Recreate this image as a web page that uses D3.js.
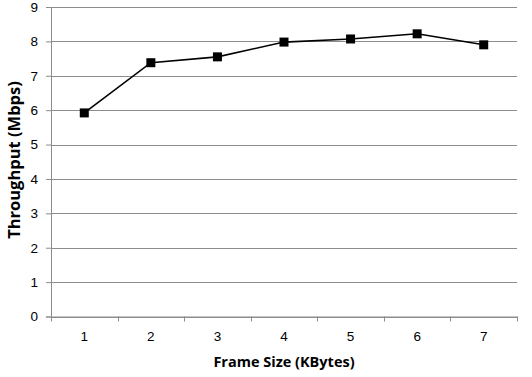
<!DOCTYPE html>
<html>
<head>
<meta charset="utf-8">
<script src="https://cdn.jsdelivr.net/npm/d3@7"></script>
<style>
  body { margin: 0; background: #fff; }
</style>
</head>
<body>
<div id="chart"></div>
<script>
const frameSizes = ["1", "2", "3", "4", "5", "6", "7"];
const throughput = [5.92, 7.38, 7.55, 7.98, 8.07, 8.22, 7.9];
const yTicks = [0, 1, 2, 3, 4, 5, 6, 7, 8, 9];

const width = 532, height = 377;
const margin = { top: 7, right: 15, bottom: 60.5, left: 51 };
const graphWidth = width - margin.left - margin.right;
const graphHeight = height - margin.top - margin.bottom;

const svg = d3.select("#chart").append("svg")
    .attr("width", width)
    .attr("height", height);

const graph = svg.append("g")
    .attr("transform", `translate(${margin.left},${margin.top})`);

const x = d3.scaleBand()
    .domain(frameSizes)
    .range([0, graphWidth]);

const y = d3.scaleLinear()
    .domain([0, 9])
    .range([graphHeight, 0]);

// gridlines
graph.selectAll("line.grid")
    .data(yTicks)
    .enter()
    .append("line")
    .attr("class", "grid")
    .attr("x1", 0)
    .attr("x2", graphWidth)
    .attr("y1", d => Math.round(y(d)) + 0.5)
    .attr("y2", d => Math.round(y(d)) + 0.5)
    .attr("stroke", "#8c8c8c")
    .attr("stroke-width", 1);

// y axis
const yAxisGroup = graph.append("g")
    .call(d3.axisLeft(y).tickValues(yTicks).tickSize(5).tickPadding(8));
yAxisGroup.select(".domain").attr("stroke", "#8c8c8c");
yAxisGroup.selectAll(".tick line").attr("stroke", "#8c8c8c");
yAxisGroup.selectAll("text")
    .style("font-family", "'Liberation Sans', Arial, sans-serif")
    .style("font-size", "13.5px")
    .attr("fill", "#000");

// x axis with ticks on band boundaries
const xAxisGroup = graph.append("g")
    .attr("transform", `translate(0,${graphHeight})`)
    .call(d3.axisBottom(x).tickSize(0).tickPadding(15));
xAxisGroup.select(".domain").attr("stroke", "#8c8c8c");
xAxisGroup.selectAll("text")
    .style("font-family", "'Liberation Sans', Arial, sans-serif")
    .style("font-size", "13.5px")
    .attr("fill", "#000");

const bounds = frameSizes.map(d => x(d)).concat([graphWidth]);
xAxisGroup.selectAll("line.btick")
    .data(bounds)
    .enter()
    .append("line")
    .attr("class", "btick")
    .attr("x1", d => Math.round(d) + 0.5)
    .attr("x2", d => Math.round(d) + 0.5)
    .attr("y1", 0)
    .attr("y2", 5)
    .attr("stroke", "#8c8c8c");

// line
const points = frameSizes.map((d, i) => ({ cat: d, val: throughput[i] }));
const line = d3.line()
    .x(d => x(d.cat) + x.bandwidth() / 2)
    .y(d => y(d.val));

graph.append("path")
    .datum(points)
    .attr("d", line)
    .attr("fill", "none")
    .attr("stroke", "#000")
    .attr("stroke-width", 1.6);

// markers
graph.selectAll("rect.marker")
    .data(points)
    .enter()
    .append("rect")
    .attr("class", "marker")
    .attr("x", d => x(d.cat) + x.bandwidth() / 2 - 4.5)
    .attr("y", d => y(d.val) - 4.5)
    .attr("width", 9)
    .attr("height", 9)
    .attr("fill", "#000");

// axis labels
svg.append("text")
    .attr("x", 284)
    .attr("y", 367)
    .attr("text-anchor", "middle")
    .style("font-family", "'Open Sans', sans-serif")
    .style("font-size", "14.5px")
    .style("font-weight", "bold")
    .text("Frame Size (KBytes)");

svg.append("text")
    .attr("transform", "rotate(-90)")
    .attr("x", -160)
    .attr("y", 20)
    .attr("text-anchor", "middle")
    .style("font-family", "'Open Sans', sans-serif")
    .style("font-size", "16.5px")
    .style("font-weight", "bold")
    .text("Throughput (Mbps)");
</script>
</body>
</html>
